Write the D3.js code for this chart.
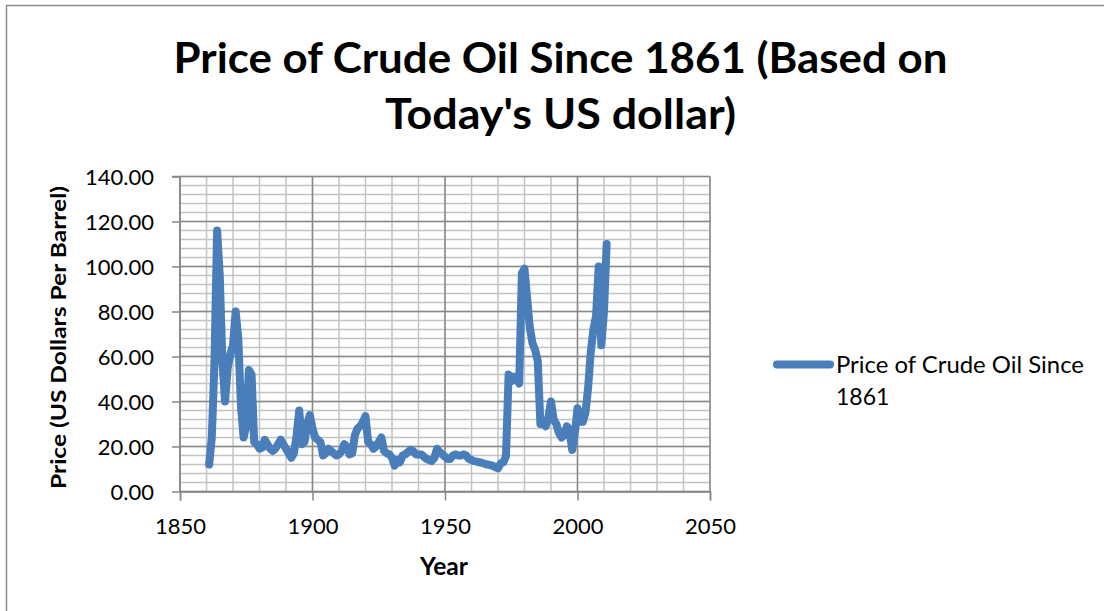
<!DOCTYPE html>
<html>
<head>
<meta charset="utf-8">
<script src="https://cdn.jsdelivr.net/npm/d3@7"></script>
<style>
  body { margin: 0; background: #fff; }
  text { font-family: Lato, "Open Sans", sans-serif; fill: #000; }
</style>
</head>
<body>
<svg id="chart" width="1104" height="611"></svg>
<script>
// Crude oil price per barrel, in today's US dollars, one value per year from 1861
const firstYear = 1861;
const prices = [
  12, 24, 57, 116, 96, 58, 40, 55, 61, 65,          // 1861-1870
  80, 68, 38, 24, 29, 54, 52, 22, 21, 19,           // 1871-1880
  19.5, 23, 21, 19, 18, 19, 21, 23, 21, 19,         // 1881-1890
  17, 15, 17, 25, 36, 21, 22, 30, 34, 28,           // 1891-1900
  24, 23, 22, 16, 17, 19, 18, 17, 16, 16.5,         // 1901-1910
  18, 21, 20, 16.5, 17, 25, 28, 29, 31, 33.5,       // 1911-1920
  22, 21, 19, 20, 22, 24, 18, 17, 16.5, 15,         // 1921-1930
  11.5, 14, 13, 16, 16.5, 17.5, 18.5, 18, 16.5, 16.5, // 1931-1940
  16.5, 15.5, 14.5, 14, 13.5, 15, 19, 17.5, 16.5, 15.5, // 1941-1950
  14.5, 14.5, 16, 16.5, 16, 16, 16.5, 16, 14.5, 14,   // 1951-1960
  13.5, 13.3, 13, 12.7, 12.3, 12, 11.8, 11.4, 10.8, 10.3, // 1961-1970
  12.5, 13, 15.5, 52, 49, 51, 50, 48, 97, 99,       // 1971-1980
  86, 73, 66, 63, 58, 30, 30, 29, 33, 40,           // 1981-1990
  32, 30, 26, 24, 25, 29, 27, 18.5, 26, 37,         // 1991-2000
  31, 31, 35, 46, 62, 72, 78, 100, 65, 80,          // 2001-2010
  110                                               // 2011
];
const years = d3.range(firstYear, firstYear + prices.length);

const xTicks = [1850, 1900, 1950, 2000, 2050];
const yTicks = [0, 20, 40, 60, 80, 100, 120, 140];
const xMinorTicks = d3.range(1850, 2051, 10);
const yMinorTicks = d3.range(0, 141, 4);

const titleLines = ["Price of Crude Oil Since 1861 (Based on", "Today's US dollar)"];
const yTitle = "Price (US Dollars Per Barrel)";
const xTitle = "Year";
const legendLines = ["Price of Crude Oil Since", "1861"];

const svg = d3.select("#chart");
const lineColor = "#4a7ebb";

// outer chart frame
svg.append("rect")
  .attr("x", 6.5).attr("y", 5.5)
  .attr("width", 1110).attr("height", 620)
  .attr("fill", "none").attr("stroke", "#8c8c8c").attr("stroke-width", 1.5);

const x = d3.scaleLinear().domain([1850, 2050]).range([180, 710]);
const y = d3.scaleLinear().domain([0, 140]).range([491.5, 176.5]);

// minor gridlines
const grid = svg.append("g");
grid.selectAll(".vminor").data(xMinorTicks).join("line")
  .attr("x1", d => x(d)).attr("x2", d => x(d))
  .attr("y1", y(140)).attr("y2", y(0))
  .attr("stroke", "#c3c3c3").attr("stroke-width", 1.5);
grid.selectAll(".hminor").data(yMinorTicks).join("line")
  .attr("x1", x(1850)).attr("x2", x(2050))
  .attr("y1", d => y(d)).attr("y2", d => y(d))
  .attr("stroke", "#c3c3c3").attr("stroke-width", 1.5);
// major gridlines
grid.selectAll(".vmajor").data(xTicks).join("line")
  .attr("x1", d => x(d)).attr("x2", d => x(d))
  .attr("y1", y(140)).attr("y2", y(0))
  .attr("stroke", "#8a8a8a").attr("stroke-width", 1.5);
grid.selectAll(".hmajor").data(yTicks).join("line")
  .attr("x1", x(1850)).attr("x2", x(2050))
  .attr("y1", d => y(d)).attr("y2", d => y(d))
  .attr("stroke", "#8a8a8a").attr("stroke-width", 1.5);

// axes
const yAxis = svg.append("g")
  .attr("transform", `translate(${x(1850)},0)`)
  .call(d3.axisLeft(y).tickValues(yTicks).tickFormat(d3.format(".2f")).tickSize(8).tickPadding(18));
const xAxis = svg.append("g")
  .attr("transform", `translate(0,${y(0)})`)
  .call(d3.axisBottom(x).tickValues(xTicks).tickFormat(d3.format("d")).tickSize(9).tickPadding(10));

[yAxis, xAxis].forEach(g => {
  g.select(".domain").attr("stroke", "#868686").attr("stroke-width", 1.5);
  g.selectAll(".tick line").attr("stroke", "#868686").attr("stroke-width", 1.5);
  g.selectAll(".tick text")
    .style("font-family", "Lato, 'Open Sans', sans-serif")
    .style("font-size", "22px").attr("fill", "#000");
});
yAxis.select(".domain").attr("d", `M-8,${y(140)}H0V${y(0)}`);
xAxis.selectAll(".tick text").attr("y", 42.5).attr("dy", 0);
yAxis.selectAll(".tick text").attr("dy", "0.36em");

// price series
const line = d3.line()
  .x((d, i) => x(years[i]))
  .y(d => y(d));
svg.append("path")
  .datum(prices)
  .attr("d", line)
  .attr("fill", "none")
  .attr("stroke", lineColor)
  .attr("stroke-width", 8)
  .attr("stroke-linejoin", "round")
  .attr("stroke-linecap", "round");

// titles
function fitText(sel, width) {
  sel.attr("textLength", width).attr("lengthAdjust", "spacingAndGlyphs");
}
svg.append("text").text(titleLines[0])
  .attr("x", 173.5).attr("y", 72.5)
  .style("font-size", "42px").style("font-weight", "bold")
  .call(fitText, 774);
svg.append("text").text(titleLines[1])
  .attr("x", 385).attr("y", 128.5)
  .style("font-size", "42px").style("font-weight", "bold")
  .call(fitText, 351);

svg.append("text").text(yTitle)
  .attr("transform", "translate(66,489) rotate(-90)")
  .attr("x", 0).attr("y", 0)
  .style("font-size", "20px").style("font-weight", "bold")
  .call(fitText, 303);

svg.append("text").text(xTitle)
  .attr("x", 420).attr("y", 574.5)
  .style("font-size", "24px").style("font-weight", "bold")
  .call(fitText, 48);

// legend
svg.append("line")
  .attr("x1", 777).attr("x2", 830)
  .attr("y1", 364.5).attr("y2", 364.5)
  .attr("stroke", lineColor).attr("stroke-width", 8)
  .attr("stroke-linecap", "round");
svg.append("text").text(legendLines[0])
  .attr("x", 836).attr("y", 373)
  .style("font-size", "23px")
  .call(fitText, 248);
svg.append("text").text(legendLines[1])
  .attr("x", 836).attr("y", 404.5)
  .style("font-size", "23px");
</script>
</body>
</html>
